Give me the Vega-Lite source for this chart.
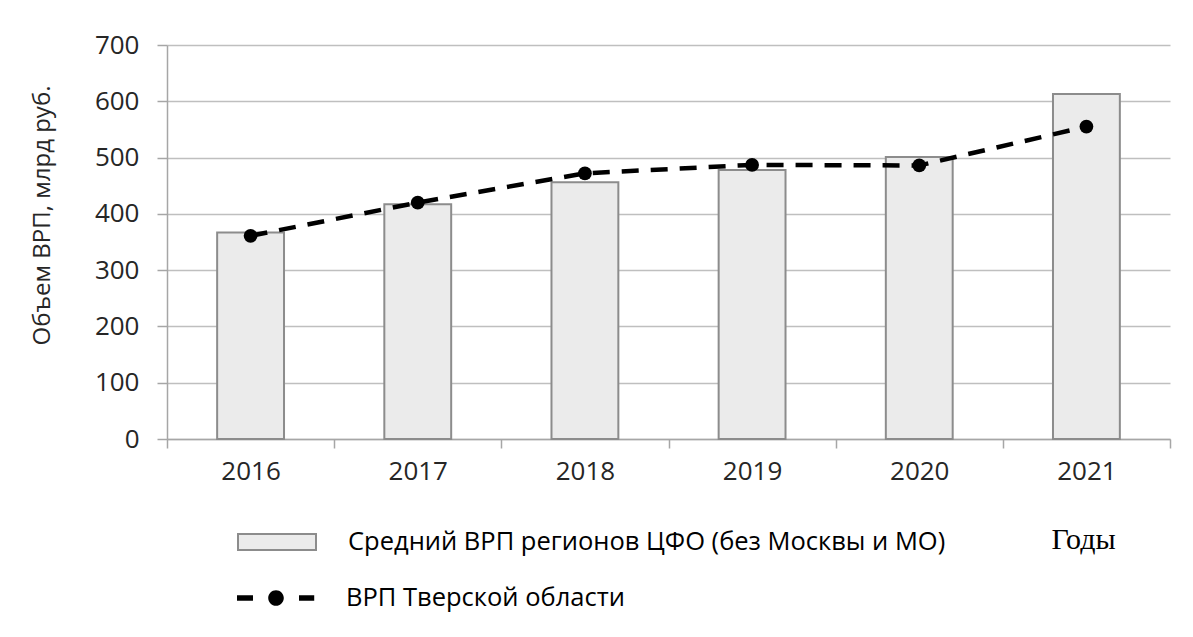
{
  "$schema": "https://vega.github.io/schema/vega-lite/v6.json",
  "autosize": "none",
  "width": 1003,
  "height": 394,
  "padding": {"left": 167, "top": 45, "right": 23, "bottom": 198},
  "background": "white",
  "config": {
    "view": {"stroke": null},
    "font": "Open Sans"
  },
  "data": {
    "values": [
      {"year": "2016", "avg": 367, "tver": 361},
      {"year": "2017", "avg": 417, "tver": 420},
      {"year": "2018", "avg": 456, "tver": 472},
      {"year": "2019", "avg": 478, "tver": 487},
      {"year": "2020", "avg": 501, "tver": 486},
      {"year": "2021", "avg": 613, "tver": 555}
    ]
  },
  "encoding": {
    "x": {
      "field": "year",
      "type": "ordinal",
      "scale": {"paddingInner": 0, "paddingOuter": 0},
      "axis": {
        "title": "Годы",
        "titleFont": "Liberation Serif",
        "titleFontSize": 30,
        "titleFontWeight": "normal",
        "titleColor": "#000000",
        "titleX": 916,
        "titleY": 109,
        "titleAlign": "center",
        "titleBaseline": "alphabetic",
        "labelAngle": 0,
        "labelFontSize": 26,
        "labelColor": "#262626",
        "labelPadding": 10,
        "tickBand": "extent",
        "tickSize": 9,
        "tickColor": "#a6a6a6",
        "tickWidth": 1.5,
        "domainColor": "#a6a6a6",
        "domainWidth": 1.5,
        "grid": false
      }
    }
  },
  "layer": [
    {
      "mark": {"type": "bar", "width": {"band": 0.4}, "stroke": "#8c8c8c", "strokeWidth": 2},
      "encoding": {
        "y": {
          "field": "avg",
          "type": "quantitative",
          "scale": {"domain": [0, 700], "nice": false},
          "axis": {
            "values": [0, 100, 200, 300, 400, 500, 600, 700],
            "title": "Объем ВРП, млрд руб.",
            "titleFontSize": 24,
            "titleFontWeight": "normal",
            "titleColor": "#262626",
            "titleAngle": -90,
            "titleX": -125,
            "titleY": 170,
            "titleAlign": "center",
            "titleBaseline": "middle",
            "labelFontSize": 26,
            "labelColor": "#262626",
            "labelPadding": 18,
            "tickSize": 10,
            "tickColor": "#a6a6a6",
            "tickWidth": 1.5,
            "domainColor": "#a6a6a6",
            "domainWidth": 1.5,
            "grid": true,
            "gridColor": "#bfbfbf",
            "gridWidth": 1.5
          }
        },
        "fill": {
          "datum": "Средний ВРП регионов ЦФО (без Москвы и МО)",
          "scale": {"range": ["#ebebeb"]},
          "legend": {
            "title": null,
            "orient": "none",
            "legendX": 70,
            "legendY": 457,
            "padding": 0,
            "symbolType": "M-1,-0.205H1V0.205H-1Z",
            "symbolSize": 6084,
            "symbolStrokeColor": "#8c8c8c",
            "symbolStrokeWidth": 2,
            "labelFontSize": 25.5,
            "labelColor": "#000000",
            "labelOffset": 31,
            "labelLimit": 800,
            "encode": {"symbols": {"update": {"stroke": {"value": "#8c8c8c"}, "strokeWidth": {"value": 2}, "opacity": {"value": 1}}}}
          }
        }
      }
    },
    {
      "mark": {"type": "line", "color": "#000000", "strokeWidth": 4.5, "strokeDash": [17, 12]},
      "encoding": {
        "y": {"field": "tver", "type": "quantitative"}
      }
    },
    {
      "mark": {"type": "point", "filled": true, "size": 190, "opacity": 1},
      "encoding": {
        "y": {"field": "tver", "type": "quantitative"},
        "color": {
          "datum": "ВРП Тверской области",
          "scale": {"range": ["#000000"]},
          "legend": {
            "title": null,
            "orient": "none",
            "legendX": 70,
            "legendY": 514,
            "padding": 0,
            "symbolType": "M-1,-0.068H-0.59V0.068H-1Z M0.59,-0.068H0.98V0.068H0.59Z M-0.2,0A0.2,0.2 0 1 0 0.2,0A0.2,0.2 0 1 0 -0.2,0Z",
            "symbolSize": 6084,
            "symbolStrokeWidth": 0,
            "symbolOpacity": 1,
            "labelFontSize": 25.5,
            "labelColor": "#000000",
            "labelOffset": 31,
            "labelLimit": 800
          }
        }
      }
    }
  ]
}
